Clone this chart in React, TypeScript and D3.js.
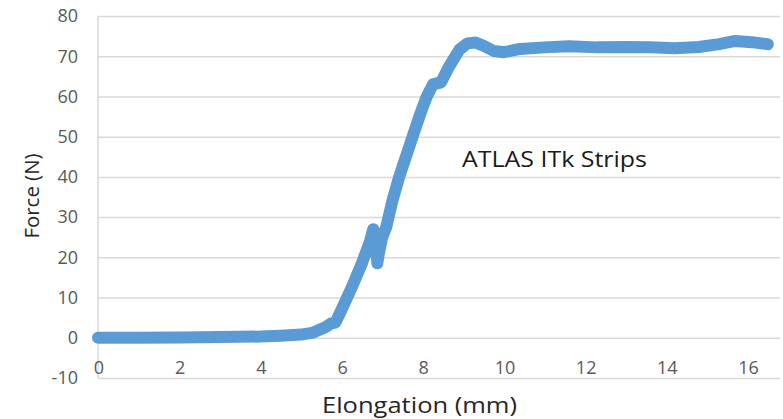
import React, { useEffect, useRef } from 'react';
import * as d3 from 'd3';

// elongation (mm) and force (N)
const elongation = [
  0, 1, 2, 3, 4, 4.5, 5, 5.3, 5.6, 5.75, 5.85, 6.0, 6.25, 6.5, 6.7, 6.78, 6.85,
  6.88, 6.92, 7.0, 7.1, 7.25, 7.42, 7.6, 7.75, 7.95, 8.1, 8.25, 8.45, 8.65, 8.9,
  9.1, 9.3, 9.5, 9.75, 10.0, 10.4, 11.0, 11.6, 12.3, 13.0, 13.6, 14.2, 14.8,
  15.3, 15.7, 16.1, 16.5,
];
const force = [
  0, 0, 0.1, 0.2, 0.3, 0.5, 0.8, 1.3, 2.6, 3.6, 3.8, 7, 12.5, 18.5, 24, 27, 24,
  18.5, 21, 25, 27.5, 34, 40, 45.5, 50, 56, 60, 63, 63.5, 67.5, 71.6, 73.2, 73.4,
  72.6, 71.3, 71, 71.8, 72.2, 72.5, 72.2, 72.3, 72.2, 72, 72.3, 73, 73.8, 73.5,
  73,
];
const xTicks = [0, 2, 4, 6, 8, 10, 12, 14, 16];
const yTicks = [-10, 0, 10, 20, 30, 40, 50, 60, 70, 80];

export default function App() {
  const ref = useRef<SVGSVGElement>(null);

  useEffect(() => {
    const width = 783;
    const height = 419;
    const margin = { top: 16, right: 3, bottom: 41, left: 98 };
    const font = '"Open Sans", "Liberation Sans", sans-serif';

    const svg = d3.select(ref.current);
    svg.selectAll('*').remove();

    const x = d3
      .scaleLinear()
      .domain([0, 16.8])
      .range([margin.left, width - margin.right]);
    const y = d3
      .scaleLinear()
      .domain([-10, 80])
      .range([height - margin.bottom, margin.top]);

    // Gridlines
    svg
      .append('g')
      .selectAll('line')
      .data(yTicks)
      .join('line')
      .attr('x1', margin.left)
      .attr('x2', width - margin.right)
      .attr('y1', (d) => y(d) + 0.5)
      .attr('y2', (d) => y(d) + 0.5)
      .attr('stroke', '#d9d9d9')
      .attr('stroke-width', 1.5);

    // Left axis line
    svg
      .append('line')
      .attr('x1', margin.left)
      .attr('x2', margin.left)
      .attr('y1', y(80))
      .attr('y2', y(-10))
      .attr('stroke', '#d9d9d9')
      .attr('stroke-width', 1.5);

    // Y tick labels
    svg
      .append('g')
      .selectAll('text')
      .data(yTicks)
      .join('text')
      .attr('x', 78)
      .attr('y', (d) => y(d))
      .attr('dy', '0.35em')
      .attr('text-anchor', 'end')
      .attr('font-family', font)
      .attr('font-size', 18)
      .attr('fill', '#595959')
      .text((d) => d);

    // X tick labels
    svg
      .append('g')
      .selectAll('text')
      .data(xTicks)
      .join('text')
      .attr('x', (d) => x(d) + 1)
      .attr('y', 368)
      .attr('dy', '0.35em')
      .attr('text-anchor', 'middle')
      .attr('font-family', font)
      .attr('font-size', 18)
      .attr('fill', '#595959')
      .text((d) => d);

    // Curve
    svg
      .append('path')
      .datum(d3.zip(elongation, force))
      .attr('fill', 'none')
      .attr('stroke', '#5b9bd5')
      .attr('stroke-width', 12)
      .attr('stroke-linecap', 'round')
      .attr('stroke-linejoin', 'round')
      .attr(
        'd',
        d3
          .line<number[]>()
          .x((d) => x(d[0]))
          .y((d) => y(d[1]))
      );

    // Axis titles
    svg
      .append('text')
      .attr('transform', 'translate(32,196) rotate(-90)')
      .attr('text-anchor', 'middle')
      .attr('dy', '0.35em')
      .attr('font-family', font)
      .attr('font-size', 20)
      .attr('textLength', 85)
      .attr('lengthAdjust', 'spacingAndGlyphs')
      .attr('fill', '#262626')
      .text('Force (N)');

    svg
      .append('text')
      .attr('x', 322)
      .attr('y', 406)
      .attr('dy', '0.35em')
      .attr('font-family', font)
      .attr('font-size', 21)
      .attr('textLength', 195)
      .attr('lengthAdjust', 'spacingAndGlyphs')
      .attr('fill', '#262626')
      .text('Elongation (mm)');

    svg
      .append('text')
      .attr('x', 462)
      .attr('y', 159)
      .attr('dy', '0.35em')
      .attr('font-family', font)
      .attr('font-size', 22)
      .attr('textLength', 185)
      .attr('lengthAdjust', 'spacingAndGlyphs')
      .attr('fill', '#1a1a1a')
      .text('ATLAS ITk Strips');
  }, []);

  return (
    <svg
      ref={ref}
      width={783}
      height={419}
      style={{ position: 'absolute', left: 0, top: 0, background: '#fff' }}
    />
  );
}
